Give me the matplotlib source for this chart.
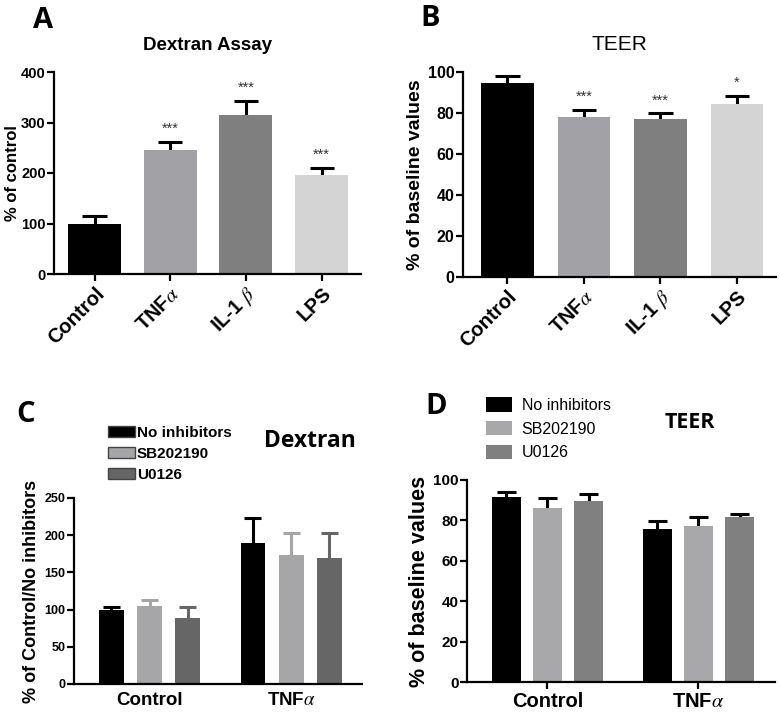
import matplotlib
matplotlib.use('Agg')
import matplotlib.pyplot as plt
import numpy as np

plt.rcParams['font.family'] = ['Liberation Sans', 'DejaVu Sans']
plt.rcParams['mathtext.fontset'] = 'stix'

# panel A / B data
treatments = ['Control', r'TNF$\alpha$', r'IL-1 $\beta$', 'LPS']
dextran_vals = [100, 245, 315, 197]
dextran_err = [14, 17, 28, 13]
dextran_sig = ['', '***', '***', '***']
teer_vals = [94.8, 78.0, 77.3, 84.3]
teer_err = [3.4, 3.6, 2.5, 4.0]
teer_sig = ['', '***', '***', '*']
single_colors = ['#000000', '#a2a2a6', '#7f7f7f', '#d4d4d4']

# panel C / D data
groups = ['Control', r'TNF$\alpha$']
inhibitors = ['No inhibitors', 'SB202190', 'U0126']
dex_inh_vals = [[99, 189.7], [104.5, 173], [88.4, 170]]
dex_inh_err = [[5, 33], [9, 30], [15, 33]]
teer_inh_vals = [[91.7, 75.7], [86.3, 77.4], [89.8, 81.6]]
teer_inh_err = [[2.2, 4.0], [4.9, 4.4], [3.4, 1.4]]
c_colors = ['#000000', '#a6a6a8', '#666666']
d_colors = ['#000000', '#a8a8ab', '#808080']

W, H = 780, 712
fig = plt.figure(figsize=(W / 100, H / 100), dpi=100)
LETTER_FONT = ['Open Sans', 'DejaVu Sans']


def px_axes(left, right, top, bottom):
    return fig.add_axes([left / W, 1 - bottom / H, (right - left) / W, (bottom - top) / H])


def style(ax, ysize, xticks=True, xpad=2):
    for s in ['top', 'right']:
        ax.spines[s].set_visible(False)
    for s in ['left', 'bottom']:
        ax.spines[s].set_linewidth(1.6)
    ax.tick_params(axis='y', direction='out', length=5, width=1.6, labelsize=ysize, pad=1)
    ax.tick_params(axis='x', direction='out', length=5 if xticks else 0, width=1.6, pad=xpad)
    for lab in ax.get_yticklabels():
        lab.set_fontweight('bold')


def err_up(ax, x, y, e, color, half):
    ax.plot([x, x], [y, y + e], color=color, lw=2.2, solid_capstyle='butt', zorder=1)
    ax.plot([x - half, x + half], [y + e, y + e], color=color, lw=2.2, solid_capstyle='butt', zorder=1)


# ---- A
ax = px_axes(54, 361, 72, 274)
x = np.arange(len(treatments))
ax.bar(x, dextran_vals, width=0.7, color=single_colors, zorder=2)
for i in range(len(x)):
    err_up(ax, x[i], dextran_vals[i], dextran_err[i], 'black', 0.16)
    if dextran_sig[i]:
        ax.text(x[i], dextran_vals[i] + dextran_err[i] + 12, dextran_sig[i], ha='center',
                va='bottom', fontsize=10.5, color='#333333')
ax.set_xlim(-0.535, 3.52)
ax.set_ylim(0, 400)
ax.set_yticks([0, 100, 200, 300, 400])
ax.set_xticks(x)
ax.set_xticklabels(treatments, rotation=45, ha='right', rotation_mode='anchor',
                   fontsize=14.5, fontweight='bold')
ax.set_ylabel('% of control', fontsize=12, fontweight='bold', labelpad=1)
ax.set_title('Dextran Assay', fontsize=13.5, fontweight='bold', pad=16)
style(ax, 10.5)
fig.text(33 / W, 1 - 21 / H, 'A', fontsize=21, fontweight='bold', va='center',
         family=LETTER_FONT)

# ---- B
ax = px_axes(463, 776, 72, 277)
ax.bar(x, teer_vals, width=0.69, color=single_colors, zorder=2)
for i in range(len(x)):
    err_up(ax, x[i], teer_vals[i], teer_err[i], 'black', 0.16)
    if teer_sig[i]:
        ax.text(x[i], teer_vals[i] + teer_err[i] + 2.8, teer_sig[i], ha='center',
                va='bottom', fontsize=10.5, color='#333333')
ax.set_xlim(-0.58, 3.51)
ax.set_ylim(0, 100)
ax.set_yticks([0, 20, 40, 60, 80, 100])
ax.set_xticks(x)
ax.set_xticklabels(treatments, rotation=45, ha='right', rotation_mode='anchor',
                   fontsize=14.5, fontweight='bold')
ax.set_ylabel('% of baseline values', fontsize=14, fontweight='bold', labelpad=3)
ax.set_title('TEER', fontsize=15, pad=16)
style(ax, 11.5)
fig.text(420 / W, 1 - 18 / H, 'B', fontsize=21, fontweight='bold', va='center',
         family=LETTER_FONT)

# ---- C
ax = px_axes(74, 362, 498, 684)
gx = np.arange(len(groups))
handles = []
for k in range(len(inhibitors)):
    pos = gx + (k - 1) * 0.27
    h = ax.bar(pos, dex_inh_vals[k], width=0.175, color=c_colors[k], zorder=2,
               label=inhibitors[k])
    handles.append(h)
    ecol = 'black' if k == 0 else c_colors[k]
    for j in range(len(gx)):
        err_up(ax, pos[j], dex_inh_vals[k][j], dex_inh_err[k][j], ecol, 0.06)
ax.set_xlim(-0.534, 1.5)
ax.set_ylim(0, 250)
ax.set_yticks([0, 50, 100, 150, 200, 250])
ax.set_xticks(gx)
ax.set_xticklabels(groups, fontsize=13.5, fontweight='bold')
ax.set_ylabel('% of Control/No inhibitors', fontsize=13, fontweight='bold', labelpad=3)
style(ax, 9, xticks=False, xpad=6)
leg = fig.legend(handles=handles, loc='upper left', bbox_to_anchor=(94 / W, 1 - 412 / H),
                 frameon=False, handlelength=1.8, handleheight=0.8,
                 handletextpad=0.1, labelspacing=0.45, prop={'weight': 'bold', 'size': 11})
for p in leg.get_patches():
    p.set_edgecolor('#444444')
fig.text(310 / W, 1 - 441 / H, 'Dextran', fontsize=16.5, fontweight='bold', ha='center',
         va='center', family=LETTER_FONT)
fig.text(16 / W, 1 - 415 / H, 'C', fontsize=21, fontweight='bold', va='center',
         family=LETTER_FONT)

# ---- D
ax = px_axes(467, 775, 480, 682)
handles = []
for k in range(len(inhibitors)):
    pos = gx + (k - 1) * 0.272
    h = ax.bar(pos, teer_inh_vals[k], width=0.195, color=d_colors[k], zorder=2,
               label=inhibitors[k])
    handles.append(h)
    for j in range(len(gx)):
        err_up(ax, pos[j], teer_inh_vals[k][j], teer_inh_err[k][j], 'black', 0.065)
ax.set_xlim(-0.533, 1.507)
ax.set_ylim(0, 100)
ax.set_yticks([0, 20, 40, 60, 80, 100])
ax.set_xticks(gx)
ax.set_xticklabels(groups, fontsize=14.5, fontweight='bold')
ax.set_ylabel('% of baseline values', fontsize=15.5, fontweight='bold', labelpad=2)
style(ax, 11)
fig.legend(handles=handles, loc='upper left', bbox_to_anchor=(472 / W, 1 - 383 / H),
           frameon=False, fontsize=11.5, handlelength=1.6, handleheight=1.0,
           handletextpad=0.6, labelspacing=0.5)
fig.text(690 / W, 1 - 423 / H, 'TEER', fontsize=15.5, fontweight='bold', ha='center',
         va='center', family=LETTER_FONT)
fig.text(425 / W, 1 - 407 / H, 'D', fontsize=21, fontweight='bold', va='center',
         family=LETTER_FONT)

fig.savefig('out.png', dpi=100)
